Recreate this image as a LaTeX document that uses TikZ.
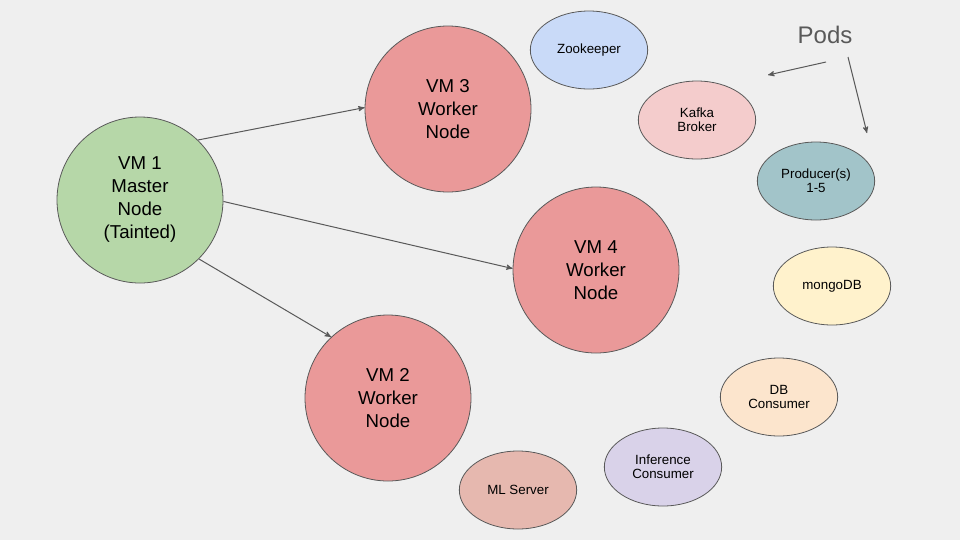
\documentclass[tikz,border=0pt]{standalone}
\usepackage{fontspec}
\setmainfont{Liberation Sans}
\usetikzlibrary{arrows}
\usetikzlibrary{shapes.geometric}

\definecolor{bgrey}{HTML}{EFEFEF}
\definecolor{edgegrey}{HTML}{595959}
\definecolor{mastergreen}{HTML}{B6D7A8}
\definecolor{workerred}{HTML}{EA9999}
\definecolor{zooblue}{HTML}{C9DAF8}
\definecolor{kafkapink}{HTML}{F4CCCC}
\definecolor{prodcyan}{HTML}{A2C4C9}
\definecolor{mongoyellow}{HTML}{FFF2CC}
\definecolor{dborange}{HTML}{FCE5CD}
\definecolor{infpurple}{HTML}{D9D2E9}
\definecolor{mlberry}{HTML}{E6B8AF}

\tikzset{
  vm/.style={circle, draw=edgegrey, line width=0.6pt, minimum size=124.5pt, inner sep=0pt,
    align=center, font=\fontsize{14}{17.25}\selectfont},
  pod/.style={ellipse, draw=edgegrey, line width=0.6pt, minimum width=88pt, minimum height=58.5pt,
    inner sep=0pt, align=center, font=\fontsize{10}{10.5}\selectfont},
  link/.style={draw=edgegrey, line width=0.75pt, ->, >=stealth'}
}

\begin{document}
\begin{tikzpicture}[x=0.75pt, y=-0.75pt]
\fill[bgrey] (0,0) rectangle (960,540);
\useasboundingbox (0,0) rectangle (960,540);

% virtual machines
\node[vm, fill=mastergreen] (vm1) at (140,200) {VM 1\\Master\\Node\\(Tainted)};
\node[vm, fill=workerred] (vm3) at (448,109) {VM 3\\Worker\\Node};
\node[vm, fill=workerred] (vm4) at (596,270) {VM 4\\Worker\\Node};
\node[vm, fill=workerred] (vm2) at (388,398) {VM 2\\Worker\\Node};

% pods
\node[pod, fill=zooblue] (zookeeper) at (589,50) {Zookeeper};
\node[pod, fill=kafkapink] (kafka) at (697,120) {Kafka\\Broker};
\node[pod, fill=prodcyan] (producer) at (816,181) {Producer(s)\\1-5};
\node[pod, fill=mongoyellow] (mongo) at (832,286) {mongoDB};
\node[pod, fill=dborange] (dbcons) at (779,397) {DB\\Consumer};
\node[pod, fill=infpurple] (infcons) at (663,467) {Inference\\Consumer};
\node[pod, fill=mlberry] (mlserver) at (518,490) {ML Server};

\node[text=edgegrey, font=\fontsize{18}{18}\selectfont] (pods) at (825,35) {Pods};

\draw[link] (vm1.46) -- (vm3.179);
\draw[link] (vm1.-1) -- (vm4.179);
\draw[link] (vm1.-45) -- (vm2.133);

\coordinate (podsl) at (826,62);
\coordinate (podsr) at (848,57);
\coordinate (tipl) at (768,75);
\coordinate (tipr) at (867,133);
\draw[link] (podsl) -- (tipl);
\draw[link] (podsr) -- (tipr);
\end{tikzpicture}
\end{document}
